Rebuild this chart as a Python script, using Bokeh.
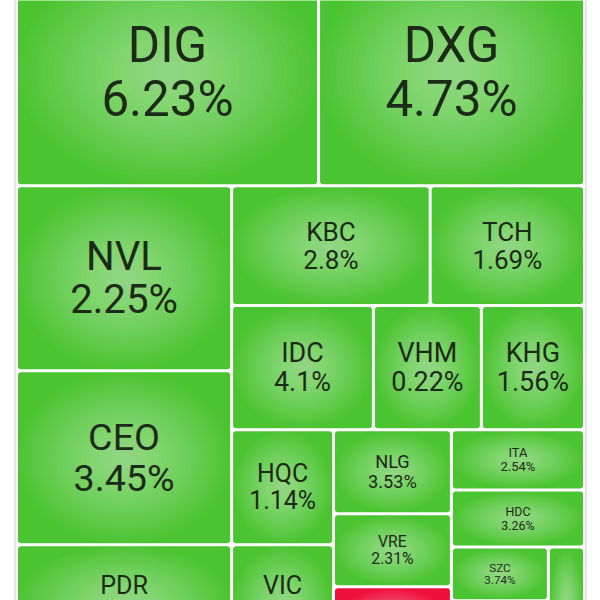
from bokeh.plotting import figure
from bokeh.models import Range1d, ColumnDataSource
from bokeh.core.properties import value
from bokeh.embed import file_html
from bokeh.resources import INLINE

# ---- data ----
tickers = ["DIG", "DXG", "NVL", "CEO", "PDR", "KBC", "TCH", "IDC", "VHM", "KHG",
           "HQC", "VIC", "NLG", "VRE", "", "ITA", "HDC", "SZC", "", ""]
changes = ["6.23%", "4.73%", "2.25%", "3.45%", "", "2.8%", "1.69%", "4.1%", "0.22%", "1.56%",
           "1.14%", "", "3.53%", "2.31%", "", "2.54%", "3.26%", "3.74%", "", ""]
direction = [1, 1, 1, 1, 1, 1, 1, 1, 1, 1, 1, 1, 1, 1, -1, 1, 1, 1, 1, 1]
weights = [686, 604, 398, 374, 249, 238, 185, 176, 134, 128,
           117, 118, 99, 86, 87, 80, 76, 52, 58, 41]
strip_sizes = [2, 3, 2, 3, 2, 3, 1, 1, 2, 1]

# ---- layout parameters ----
X0, Y0, X1, Y1 = 16, -42, 584, 660
VIEW = 600
GAP = 3.0
UP_COLOR = "#4ac430"
DOWN_COLOR = "#f0103c"
TEXT_COLOR = "#1c2b17"


def strip_layout(vals, strips, x0, y0, x1, y1):
    scale = (x1 - x0) * (y1 - y0) / float(sum(vals))
    out = []
    i = 0
    for n in strips:
        group = vals[i:i + n]
        s = sum(group) * scale
        w, h = x1 - x0, y1 - y0
        if w <= h:
            t = s / w
            cx = x0
            for v in group:
                ww = v * scale / t
                out.append((cx, y0, cx + ww, y0 + t))
                cx += ww
            y0 += t
        else:
            t = s / h
            cy = y0
            for v in group:
                hh = v * scale / t
                out.append((x0, cy, x0 + t, cy + hh))
                cy += hh
            x0 += t
        i += n
    return out


rects = strip_layout(weights, strip_sizes, X0, Y0, X1, Y1)

L, R, T, B, CX, CY, W, H, COL = [], [], [], [], [], [], [], [], []
name_d = dict(x=[], y=[], t=[], fs=[])
chg_d = dict(x=[], y=[], t=[], fs=[])
for (a, b, c, d), sgn, nm, ch in zip(rects, direction, tickers, changes):
    L.append(a + GAP / 2); R.append(c - GAP / 2)
    T.append(b + GAP / 2); B.append(d - GAP / 2)
    cx, cy = (a + c) / 2, (b + d) / 2
    w, h = c - a, d - b
    CX.append(cx); CY.append(cy); W.append(w - GAP); H.append(h - GAP)
    COL.append(UP_COLOR if sgn > 0 else DOWN_COLOR)
    fs = 0.217 * min(h, 1.2 * w)
    ny = min(cy - 0.54 * fs, VIEW - 0.55 * fs - 1)
    py = ny + 1.08 * fs
    if nm:
        name_d["x"].append(cx); name_d["y"].append(ny)
        name_d["t"].append(nm); name_d["fs"].append("%.1fpx" % fs)
    if ch:
        chg_d["x"].append(cx); chg_d["y"].append(py)
        chg_d["t"].append(ch); chg_d["fs"].append("%.1fpx" % fs)

src = ColumnDataSource(dict(l=L, r=R, t=T, b=B, col=COL))

p = figure(width=600, height=600, x_range=Range1d(0, 600), y_range=Range1d(600, 0),
           output_backend="svg", toolbar_location=None, min_border=0,
           x_axis_location=None, y_axis_location=None)
p.grid.visible = False
p.outline_line_color = None
p.background_fill_color = "white"
p.border_fill_color = "white"

# container borders
p.segment(x0=[X0 - 1.5, X1 + 1.5], y0=[-100, -100], x1=[X0 - 1.5, X1 + 1.5], y1=[700, 700],
          line_color="#dedede", line_width=1.5)

p.quad(left="l", right="r", top="t", bottom="b", fill_color="col", line_color=None,
       source=src, border_radius=3)

# radial glow approximation
N = 24
for k in range(N):
    s = 1.0 - 0.92 * k / (N - 1)
    gsrc = ColumnDataSource(dict(x=CX, y=CY, w=[v * s for v in W], h=[v * s for v in H]))
    p.ellipse(x="x", y="y", width="w", height="h", source=gsrc,
              fill_color="white", fill_alpha=0.022, line_color=None)

for d in (name_d, chg_d):
    p.text(x="x", y="y", text="t", source=ColumnDataSource(d), text_font=value("Roboto"),
           text_font_size="fs", text_align="center", text_baseline="middle",
           text_color=TEXT_COLOR)

open("out.html", "w").write(file_html(p, INLINE))
